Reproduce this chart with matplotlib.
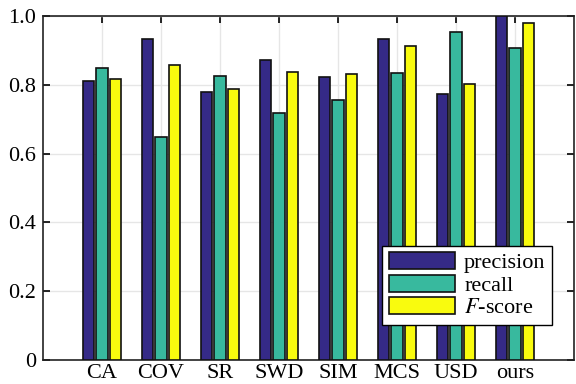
import matplotlib
matplotlib.use("Agg")
import matplotlib.pyplot as plt
import numpy as np

methods = ["CA", "COV", "SR", "SWD", "SIM", "MCS", "USD", "ours"]
precision = [0.811, 0.933, 0.779, 0.872, 0.823, 0.933, 0.773, 1.0]
recall = [0.849, 0.648, 0.826, 0.718, 0.756, 0.834, 0.953, 0.907]
fscore = [0.817, 0.858, 0.788, 0.837, 0.831, 0.913, 0.802, 0.980]

plt.rcParams["font.family"] = ["Liberation Serif", "DejaVu Serif"]
plt.rcParams["mathtext.fontset"] = "stix"

fig = plt.figure(figsize=(5.76, 3.84), dpi=100)
ax = fig.add_axes([43 / 576, 24 / 384, 531 / 576, 344 / 384])

x = np.arange(1, len(methods) + 1)
w = 0.19
off = 0.225
series = [(precision, "#352a87", "precision"),
          (recall, "#38b99e", "recall"),
          (fscore, "#f9fb0e", "$F$-score")]
for i, (vals, col, lab) in enumerate(series):
    ax.bar(x + (i - 1) * off, vals, w, color=col, edgecolor="#111111",
           linewidth=1.2, label=lab, zorder=3)

ax.set_xlim(0, 9)
ax.set_ylim(0, 1.0)
ax.set_xticks(x)
ax.set_xticklabels(methods)
ax.set_yticks([0, 0.2, 0.4, 0.6, 0.8, 1.0])
ax.set_yticklabels(["0", "0.2", "0.4", "0.6", "0.8", "1.0"])
ax.tick_params(direction="in", top=True, right=True, labelsize=16,
               length=5, width=1.2, pad=5)
ax.tick_params(axis="x", pad=3)
ax.grid(True, color="#e6e6e6", linewidth=1.0, zorder=0)
for s in ax.spines.values():
    s.set_linewidth(1.2)
    s.set_color("#222222")

leg = ax.legend(loc="lower right", bbox_to_anchor=(0.98, 0.07), fontsize=16,
                fancybox=False, framealpha=1, edgecolor="black",
                handlelength=3.0, handleheight=0.8, handletextpad=0.4,
                labelspacing=0.05, borderpad=0.3)
leg.get_frame().set_linewidth(1.0)

fig.savefig("out.png", dpi=100, facecolor="white")
